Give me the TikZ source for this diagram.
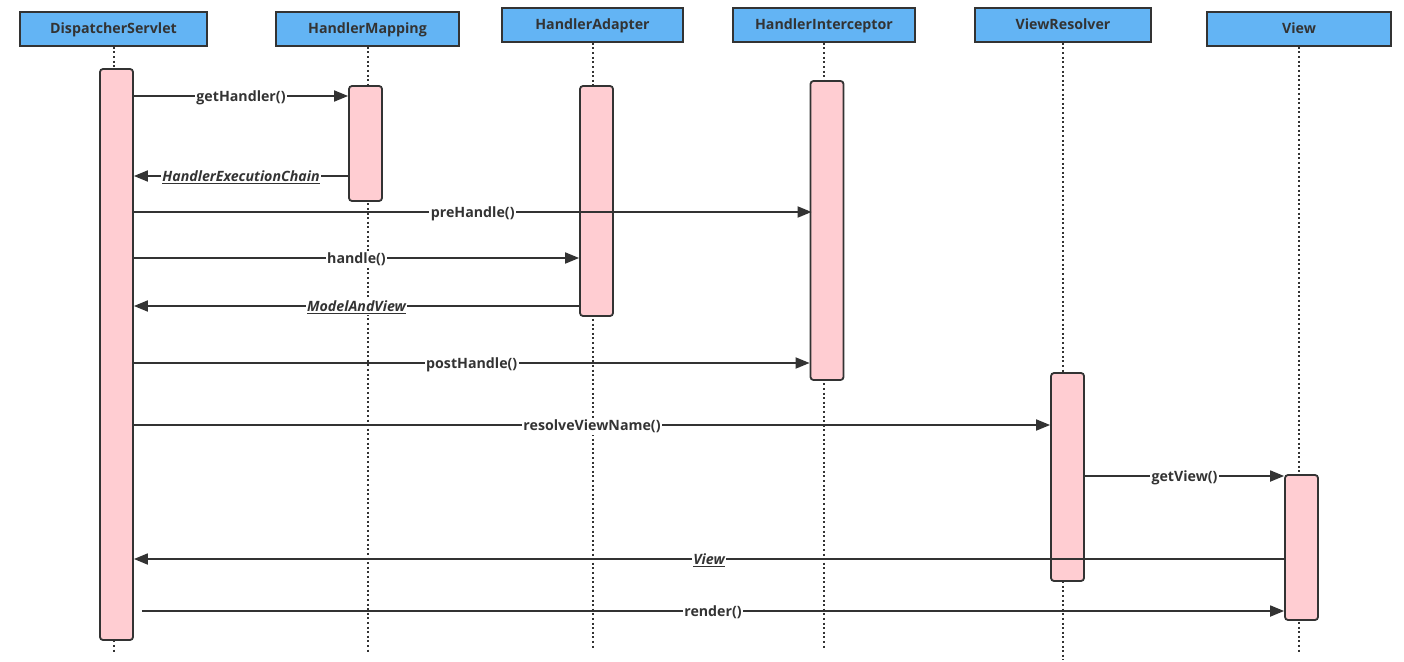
\documentclass[tikz,border=0pt]{standalone}
\usepackage{fontspec}
\setmainfont{Open Sans}
\usetikzlibrary{arrows.meta}
\definecolor{headblue}{HTML}{63B4F4}
\definecolor{actpink}{HTML}{FFCDD2}
\definecolor{ink}{HTML}{333333}

\begin{document}
\begin{tikzpicture}[x=1pt,y=-1pt]
    \tikzstyle{head}=[draw=ink,line width=1.8pt,fill=headblue,minimum height=34pt,
        inner sep=0pt,text height=11pt,text depth=2pt,text=ink,
        font=\bfseries\fontsize{14.2}{16}\selectfont]
    \tikzstyle{act}=[draw=ink,line width=1.8pt,fill=actpink,rounded corners=3pt,
        minimum width=33pt,inner sep=0pt]
    \tikzstyle{life}=[ink,line width=2pt,dash pattern=on 2pt off 2.6pt]
    \tikzstyle{msg}=[ink,line width=1.8pt,-{Triangle[length=14pt,width=11pt]}]
    \tikzstyle{lbl}=[fill=white,inner sep=1.5pt,yshift=-1.5pt,text=ink,
        font=\bfseries\fontsize{14.2}{16}\selectfont]
    \tikzstyle{ret}=[lbl,font=\bfseries\itshape\fontsize{14.2}{16}\selectfont]
    \useasboundingbox (0,0) rectangle (1404,661);
    % Headers
    \node[head,minimum width=187pt] (dsh) at (113.5,29) {DispatcherServlet};
    \node[head,minimum width=183pt] (hmh) at (367.5,29) {HandlerMapping};
    \node[head,minimum width=181pt] (hah) at (592.5,25) {HandlerAdapter};
    \node[head,minimum width=182pt] (hih) at (824,25) {HandlerInterceptor};
    \node[head,minimum width=176pt] (vrh) at (1063,25) {ViewResolver};
    \node[head,minimum width=184pt] (vwh) at (1299,29) {View};
    % Lifelines
    \draw[life] (dsh.south) -- (dsh.south |- 0,652);
    \draw[life] (hmh.south) -- (hmh.south |- 0,652);
    \draw[life] (hah.south) -- (hah.south |- 0,650);
    \draw[life] (hih.south) -- (hih.south |- 0,650);
    \draw[life] (vrh.south) -- (vrh.south |- 0,660);
    \draw[life] (vwh.south) -- (vwh.south |- 0,652);
    % Activations
    \node[act,minimum height=571pt] (ds) at (116.5,354.5) {};
    \node[act,minimum height=115pt] (hm) at (365.5,143.5) {};
    \node[act,minimum height=230pt] (ha) at (596.5,201) {};
    \node[act,minimum height=299pt] (hi) at (827,230.5) {};
    \node[act,minimum height=208pt] (vr) at (1067.5,477) {};
    \node[act,minimum height=145pt] (vw) at (1301.5,547.5) {};
    % Messages
    \draw[msg] (ds.east |- 0,96) -- (hm.west |- 0,96) node[lbl,midway] {getHandler()};
    \draw[msg] (hm.west |- 0,176) -- (ds.east |- 0,176)
        node[ret,midway] {\underline{HandlerExecutionChain}};
    \draw[msg] (ds.east |- 0,212) -- ([xshift=2pt]hi.west |- 0,212) node[lbl,midway] {preHandle()};
    \draw[msg] (ds.east |- 0,258) -- (ha.west |- 0,258) node[lbl,midway] {handle()};
    \draw[msg] (ha.west |- 0,306) -- (ds.east |- 0,306) node[ret,midway] {\underline{ModelAndView}};
    \draw[msg] (ds.east |- 0,363) -- (hi.west |- 0,363) node[lbl,midway] {postHandle()};
    \draw[msg] (ds.east |- 0,425) -- (vr.west |- 0,425) node[lbl,midway] {resolveViewName()};
    \draw[msg] (vr.east |- 0,476) -- (vw.west |- 0,476) node[lbl,midway] {getView()};
    \draw[msg] (vw.west |- 0,559) -- (ds.east |- 0,559) node[ret,midway] {\underline{View}};
    \draw[msg] ([xshift=8pt]ds.east |- 0,611) -- (vw.west |- 0,611) node[lbl,midway] {render()};
\end{tikzpicture}
\end{document}
